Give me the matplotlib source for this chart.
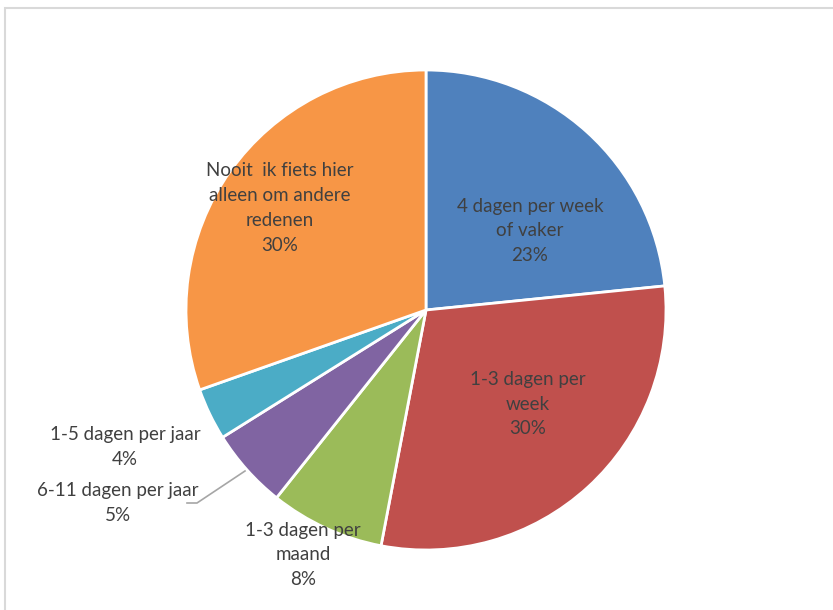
import matplotlib
matplotlib.use("Agg")
import matplotlib.pyplot as plt
import matplotlib.patches as mpatches

# slice data, clockwise from 12 o'clock
categories = [
    "4 dagen per week\nof vaker",
    "1-3 dagen per\nweek",
    "1-3 dagen per\nmaand",
    "6-11 dagen per jaar",
    "1-5 dagen per jaar",
    "Nooit  ik fiets hier\nalleen om andere\nredenen",
]
values = [23.4, 29.6, 7.7, 5.4, 3.5, 30.4]
colors = ["#4F81BD", "#C0504D", "#9BBB59", "#8064A2", "#4BACC6", "#F79646"]

# label centres in pixel coords (x, y from top)
label_pos = [(530, 231), (528, 404), (303, 555), (118, 503), (125, 447), (280, 208)]

W, H = 833, 610
fig = plt.figure(figsize=(W / 100, H / 100), dpi=100)
ax = fig.add_axes([0, 0, 1, 1])

# chart area border
ax.add_patch(mpatches.Rectangle((5.5, -10), W + 20, H - 7 + 10 - 0.5, fill=False,
                                edgecolor="#D9D9D9", linewidth=1.5))

cx, cy, r = 426, H - 310, 240
ax.pie(values, colors=colors, startangle=90, counterclock=False,
       center=(cx, cy), radius=r, frame=True,
       wedgeprops=dict(edgecolor="white", linewidth=2))
ax.set_xlim(0, W)
ax.set_ylim(0, H)
ax.set_aspect("equal")
ax.axis("off")

for cat, v, (lx, ly) in zip(categories, values, label_pos):
    ax.text(lx, H - ly, f"{cat}\n{v:.0f}%", ha="center", va="center",
            fontsize=13.5, color="#404040", family=["Lato", "DejaVu Sans"],
            linespacing=1.55)

# leader line for the 6-11 slice
ax.plot([245, 197, 187], [H - 471, H - 503, H - 503], color="#A6A6A6", lw=1.2)

fig.savefig("out.png", dpi=100)
